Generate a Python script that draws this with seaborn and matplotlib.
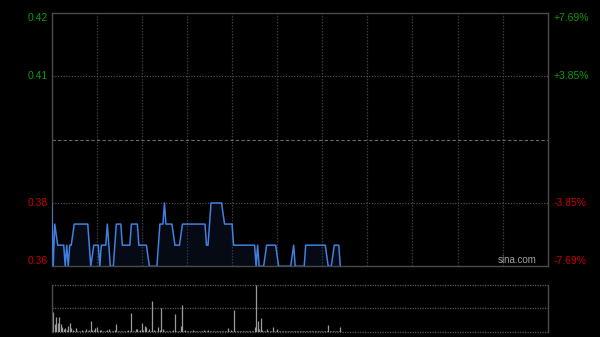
import matplotlib
matplotlib.use("Agg")
import matplotlib.pyplot as plt
import matplotlib.transforms as mtransforms
import seaborn as sns
import numpy as np

# ---- data ----
prev_close = 0.39
price_ticks = [0.42, 0.41, 0.38, 0.36]
price_tick_pos = [0.42, 0.405, 0.375, 0.36]
pct_labels = ["+7.69%", "+3.85%", "-3.85%", "-7.69%"]

minutes = [0, 1, 2, 4, 8, 9, 10, 11, 12, 13, 15, 24, 26, 28, 31, 32, 33, 36, 37, 39,
           41, 43, 46, 47, 52, 53, 57, 58, 63, 65, 70, 72, 74, 75, 76, 80, 82, 85, 87,
           102, 103, 104, 106, 113, 115, 120, 121, 135, 136, 137, 138, 141, 143, 149,
           151, 159, 161, 162, 168, 169, 182, 184, 186, 188, 191, 192]
prices = [0.375, 0.36, 0.37, 0.365, 0.365, 0.36, 0.365, 0.36, 0.365, 0.365, 0.37, 0.37,
          0.36, 0.365, 0.365, 0.36, 0.365, 0.365, 0.37, 0.36,
          0.36, 0.37, 0.37, 0.365, 0.365, 0.37, 0.37, 0.365, 0.365, 0.36, 0.36, 0.37,
          0.37, 0.375, 0.37, 0.37, 0.365, 0.365, 0.37,
          0.37, 0.365, 0.365, 0.375, 0.375, 0.37, 0.37, 0.365, 0.365, 0.36, 0.365, 0.36,
          0.36, 0.365, 0.365,
          0.36, 0.36, 0.365, 0.36, 0.36, 0.365, 0.365, 0.36, 0.36, 0.365, 0.365, 0.36]

volumes = [100, 200, 80, 150, 90, 150, 80, 50, 30, 40,
           15, 60, 90, 40, 20, 10, 35, 10, 10, 10,
           15, 10, 10, 30, 10, 15, 110, 15, 20, 40,
           50, 10, 15, 20, 10, 10, 10, 15, 30, 10,
           10, 10, 15, 80, 10, 10, 10, 10, 10, 10,
           10, 15, 10, 190, 10, 10, 25, 30, 10, 15,
           90, 15, 60, 50, 10, 30, 10, 307, 15, 10,
           10, 50, 15, 235, 30, 10, 10, 10, 10, 10,
           10, 15, 175, 10, 10, 10, 60, 265, 10, 20,
           10, 10, 10, 10, 15, 10, 10, 10, 10, 10,
           10, 15, 10, 10, 20, 10, 10, 10, 10, 10,
           10, 10, 10, 10, 10, 10, 10, 35, 10, 20,
           10, 220, 10, 10, 10, 10, 10, 10, 10, 10,
           10, 10, 10, 10, 10, 50, 467, 110, 30, 140,
           15, 10, 10, 30, 10, 10, 10, 50, 10, 10,
           30, 10, 10, 10, 10, 10, 10, 10, 10, 10,
           10, 10, 10, 10, 10, 10, 10, 10, 10, 10,
           10, 10, 10, 10, 10, 10, 10, 10, 10, 10,
           10, 10, 10, 10, 70, 10, 10, 10, 10, 10,
           10, 10, 50]
vol_minutes = list(range(len(volumes)))

# ---- style ----
sns.set_style("dark")
plt.rcParams["font.family"] = ["Liberation Sans", "DejaVu Sans"]

BG = "#000000"
SPINE = "#4a4a4a"
GREEN = "#0a9a0a"
RED = "#c80000"
LINE = "#4080e0"

fig = plt.figure(figsize=(6.0, 3.37), dpi=100, facecolor=BG)
W, H = 600, 337
x0, x1 = 51.7, 547.7
ax = fig.add_axes([x0 / W, (H - 266.3) / H, (x1 - x0) / W, (266.3 - 13) / H])
axv = fig.add_axes([x0 / W, (H - 331.7) / H, (x1 - x0) / W, (331.7 - 285) / H])

for a in (ax, axv):
    a.set_facecolor(BG)
    a.grid(False)
    a.set_xlim(0, 330)
    a.set_xticks([])
    a.set_yticks([])
    for s in a.spines.values():
        s.set_color(SPINE)
        s.set_linewidth(1.0)

# ---- price panel ----
ax.set_ylim(0.36, 0.42)
for m in range(30, 330, 30):
    ax.axvline(m, color="#3a3a3a", lw=0.9, ls=(0, (1.2, 1.2)), zorder=1)
for yv in (0.405, 0.375):
    ax.axhline(yv, color="#5a5a5a", lw=0.8, ls=(0, (1, 1.5)), zorder=1)
ax.axhline(prev_close, color="#6a6a6a", lw=0.8, ls=(0, (3, 2)), zorder=1)

ax.fill_between(minutes, prices, 0.36, color="#1c3a78", alpha=0.18, lw=0, zorder=2)
sns.lineplot(x=minutes, y=prices, ax=ax, color=LINE, lw=1.1, zorder=3,
             estimator=None, sort=False)
ax.set_xlabel("")
ax.set_ylabel("")

tl = mtransforms.blended_transform_factory(ax.transAxes, ax.transData)
for lab, pos, pct in zip(price_ticks, price_tick_pos, pct_labels):
    col = GREEN if pos > prev_close else RED
    va = "center"
    if pos == 0.42:
        va = "top"
    elif pos == 0.36:
        va = "bottom"
    ax.text(-0.008, pos, f"{lab:.2f}", transform=tl, ha="right", va=va,
            color=col, fontsize=7.5)
    ax.text(1.011, pos, pct, transform=tl, ha="left", va=va,
            color=col, fontsize=7.5)

ax.text(0.978, 0.004, "sina.com", transform=ax.transAxes, ha="right", va="bottom",
        color="#a0a0a0", fontsize=7)

# ---- volume panel ----
vmax = max(volumes)
axv.set_ylim(0, vmax)
axv.spines["top"].set_visible(False)
axv.spines["bottom"].set_visible(False)
for yv in (0, vmax / 2, vmax):
    axv.axhline(yv, color="#5a5a5a", lw=0.9, ls=(0, (1, 1)), zorder=1, clip_on=False)
axv.vlines(vol_minutes, 0, volumes, color="#9a9a9a", lw=0.9, zorder=2)

fig.savefig("out.png", dpi=100, facecolor=BG)
